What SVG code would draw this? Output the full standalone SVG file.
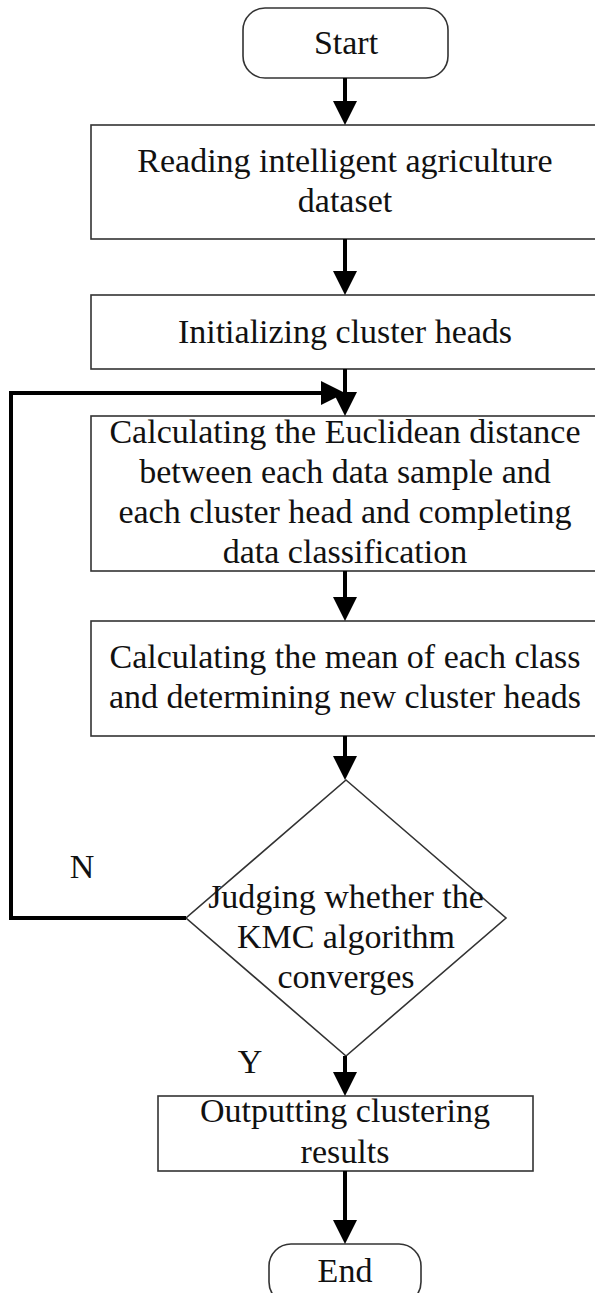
<svg xmlns="http://www.w3.org/2000/svg" width="595" height="1293" viewBox="0 0 595 1293">
<style>
.box{fill:#fff;stroke:#333;stroke-width:1.6}
.t{font-family:'Liberation Serif','Times New Roman','DejaVu Serif',serif;font-size:34px;fill:#111;text-anchor:middle}
.c{fill:none;stroke:#000;stroke-width:4;stroke-linejoin:miter}
</style>
<defs>
<marker id="ah" viewBox="0 0 24 24" refX="14" refY="12" markerWidth="24" markerHeight="24" markerUnits="userSpaceOnUse" orient="auto">
<path d="M0,0 L24,12 L0,24 z" fill="#000"/>
</marker>
</defs>
<rect width="595" height="1293" fill="#fff"/>
<g font-family="Liberation Serif, serif">
<g id="start"><rect class="box" x="243" y="8" width="205" height="70" rx="22"/><text class="t" x="346" y="54">Start</text></g>
<g id="read"><rect class="box" x="91" y="125" width="508" height="114"/><text class="t" x="345" y="172">Reading intelligent agriculture</text><text class="t" x="345" y="212">dataset</text></g>
<g id="init"><rect class="box" x="91" y="295" width="508" height="74"/><text class="t" x="345" y="343">Initializing cluster heads</text></g>
<g id="dist"><rect class="box" x="91" y="416" width="508" height="155"/><text class="t" x="345" y="443">Calculating the Euclidean distance</text><text class="t" x="345" y="483">between each data sample and</text><text class="t" x="345" y="523">each cluster head and completing</text><text class="t" x="345" y="563">data classification</text></g>
<g id="mean"><rect class="box" x="91" y="621" width="508" height="115"/><text class="t" x="345" y="668">Calculating the mean of each class</text><text class="t" x="345" y="708">and determining new cluster heads</text></g>
<g id="judge"><polygon class="box" points="346,780 506,918 346,1056 186,918"/><text class="t" x="346" y="908">Judging whether the</text><text class="t" x="346" y="948">KMC algorithm</text><text class="t" x="346" y="988">converges</text></g>
<g id="output"><rect class="box" x="158" y="1096" width="375" height="75"/><text class="t" x="345" y="1122">Outputting clustering</text><text class="t" x="345" y="1163">results</text></g>
<g id="end"><rect class="box" x="269" y="1244" width="152" height="60" rx="22"/><text class="t" x="345" y="1282">End</text></g>
<g id="connectors">
<line class="c" x1="345" y1="78" x2="345" y2="115" marker-end="url(#ah)"/>
<line class="c" x1="345" y1="239" x2="345" y2="285" marker-end="url(#ah)"/>
<line class="c" x1="345" y1="369" x2="345" y2="406" marker-end="url(#ah)"/>
<line class="c" x1="345" y1="571" x2="345" y2="611" marker-end="url(#ah)"/>
<line class="c" x1="345" y1="736" x2="345" y2="770" marker-end="url(#ah)"/>
<line class="c" x1="345" y1="1056" x2="345" y2="1086" marker-end="url(#ah)"/>
<line class="c" x1="345" y1="1171" x2="345" y2="1234" marker-end="url(#ah)"/>
<polyline class="c" points="186,918 11,918 11,393 335,393" marker-end="url(#ah)"/>
<text class="t" x="82" y="878">N</text>
<text class="t" x="250" y="1073">Y</text>
</g>
</g>
</svg>
